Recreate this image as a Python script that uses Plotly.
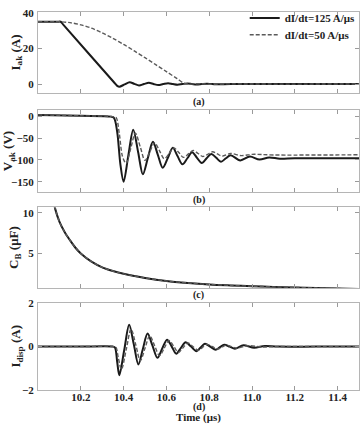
import plotly.graph_objects as go

# ---------------- data ----------------
# (a) anode current I_ak (A)
t_ia125 = [10.0, 10.09, 10.106, 10.12, 10.355, 10.37, 10.38, 10.405, 10.428, 10.45, 10.472, 10.495, 10.518,
           10.54, 10.562, 10.585, 10.608, 10.63, 10.652, 10.675, 10.698, 10.72, 10.742, 10.765, 10.79,
           10.81, 10.83, 10.9, 11.0, 11.5]
ia125 = [35, 35, 35, 33.1, 1.0, -1.0, -1.5, -0.2, 1.0, 0.1, -0.8, 0.0, 0.7,
         0.0, -0.6, 0.0, 0.5, 0.0, -0.4, 0.0, 0.3, 0.0, -0.25, 0.0, 0.2,
         0.0, -0.15, 0.0, 0.0, 0.0]
t_ia50 = [10.0, 10.1, 10.15, 10.2, 10.25, 10.3, 10.35, 10.4, 10.45, 10.5, 10.55, 10.6, 10.65, 10.68,
          10.7, 10.75, 10.8, 10.9, 11.0, 11.5]
ia50 = [35, 35, 34.5, 33.3, 31.4, 28.8, 25.7, 22.3, 18.6, 14.8, 10.9, 7.0, 3.0, 0.6,
        0.0, 0.2, -0.1, 0.1, 0.0, 0.0]

# (b) anode voltage V_ak (V)
t_v125 = [10.0, 10.2, 10.34, 10.355, 10.37, 10.385, 10.40, 10.422, 10.445, 10.468, 10.49, 10.513, 10.537,
          10.56, 10.583, 10.607, 10.63, 10.652, 10.675, 10.698, 10.72, 10.743, 10.765, 10.788, 10.81,
          10.833, 10.855, 10.878, 10.9, 10.945, 10.99, 11.035, 11.08, 11.13, 11.2, 11.5]
v125 = [4, 2, 0, -3, -35, -110, -150, -90, -30, -82, -133, -96, -58,
        -88, -118, -95, -72, -91, -110, -96, -82, -95, -107, -96, -86,
        -95, -104, -96, -89, -101, -92, -99, -94, -97, -96, -96]
t_v50 = [10.0, 10.2, 10.35, 10.365, 10.38, 10.395, 10.412, 10.433, 10.455, 10.478, 10.50, 10.523, 10.545,
         10.568, 10.59, 10.613, 10.635, 10.658, 10.68, 10.703, 10.725, 10.748, 10.77, 10.793, 10.815,
         10.838, 10.86, 10.9, 10.95, 11.0, 11.1, 11.5]
v50 = [4, 2, 0, -2, -40, -92, -108, -74, -38, -70, -101, -81, -60,
       -79, -97, -85, -72, -83, -94, -86, -78, -85, -92, -87, -81,
       -86, -91, -85, -90, -87, -88.5, -88]

# (c) capacitance C_B (uF)
t_cb = [10.06, 10.07, 10.08, 10.1, 10.125, 10.15, 10.175, 10.2, 10.25, 10.3, 10.35, 10.4, 10.5, 10.6,
        10.7, 10.8, 10.9, 11.0, 11.1, 11.2, 11.3, 11.4, 11.5]
cb125 = [13.0, 11.7, 10.5, 8.9, 7.6, 6.6, 5.7, 5.0, 4.0, 3.3, 2.85, 2.5, 2.0, 1.62,
         1.38, 1.2, 1.08, 0.98, 0.9, 0.83, 0.76, 0.7, 0.65]
cb50 = [13.0, 11.7, 10.5, 8.9, 7.6, 6.6, 5.7, 5.0, 4.0, 3.3, 2.85, 2.5, 2.0, 1.62,
        1.38, 1.2, 1.08, 0.98, 0.9, 0.83, 0.76, 0.7, 0.65]

# (d) displacement current I_disp (A)
t_id125 = [10.0, 10.2, 10.35, 10.36, 10.37, 10.38, 10.403, 10.426, 10.448, 10.469, 10.49, 10.512, 10.535,
           10.558, 10.58, 10.603, 10.625, 10.646, 10.668, 10.69, 10.715, 10.74, 10.76, 10.78, 10.805,
           10.83, 10.85, 10.87, 10.895, 10.92, 10.96, 11.01, 11.06, 11.12, 11.3, 11.5]
id125 = [0, 0, 0, -0.05, -0.7, -1.32, -0.16, 1.0, 0.09, -0.82, -0.11, 0.6, 0.04,
         -0.52, -0.1, 0.32, 0.0, -0.33, -0.06, 0.2, 0.0, -0.21, -0.04, 0.13, 0.0,
         -0.15, -0.03, 0.08, 0.0, -0.1, 0.06, -0.05, 0.03, 0.0, 0.0, 0.0]
t_id50 = [10.0, 10.2, 10.355, 10.365, 10.375, 10.39, 10.412, 10.435, 10.457, 10.478, 10.5, 10.522, 10.545,
          10.568, 10.59, 10.612, 10.635, 10.656, 10.678, 10.7, 10.724, 10.75, 10.77, 10.79, 10.815,
          10.84, 10.88, 10.93, 10.98, 11.05, 11.12, 11.3, 11.5]
id50 = [0, 0, 0, -0.05, -0.5, -1.05, -0.15, 0.8, 0.08, -0.65, -0.08, 0.5, 0.04,
        -0.42, -0.07, 0.28, 0.0, -0.27, -0.05, 0.17, 0.0, -0.17, -0.03, 0.1, 0.0,
        -0.11, 0.06, -0.07, 0.04, -0.02, 0.0, 0.0, 0.0]

x_ticks = [10.2, 10.4, 10.6, 10.8, 11.0, 11.2, 11.4]
label_125 = "dI/dt=125 A/μs"
label_50 = "dI/dt=50 A/μs"

# ---------------- figure ----------------
SOLID = dict(color="#1a1a1a", width=2)
DASH = dict(color="#5a5a5a", width=1.4, dash="4px,2px")
FONT = "Liberation Serif"

fig = go.Figure()
panels = [
    ("x", "y", t_ia125, ia125, t_ia50, ia50),
    ("x2", "y2", t_v125, v125, t_v50, v50),
    ("x3", "y3", t_cb, cb125, t_cb, cb50),
    ("x4", "y4", t_id125, id125, t_id50, id50),
]
for i, (xa, ya, t1, y1, t2, y2) in enumerate(panels):
    fig.add_trace(go.Scatter(x=t1, y=y1, xaxis=xa, yaxis=ya, mode="lines",
                             line=dict(SOLID, shape="spline", smoothing=0.9), name=label_125,
                             showlegend=(i == 0), legend="legend"))
    fig.add_trace(go.Scatter(x=t2, y=y2, xaxis=xa, yaxis=ya, mode="lines",
                             line=dict(DASH, shape="spline", smoothing=0.9),
                             name=label_50, showlegend=(i == 0), legend="legend2"))

tickfont = dict(family=FONT, size=11, weight="bold", color="#222")
common_x = dict(range=[10.0, 11.5], tickvals=x_ticks, tickformat=".1f", ticks="inside",
                ticklen=4, tickcolor="#9a9a9a", showline=True, linecolor="#b5b5b5", linewidth=1,
                mirror="ticks", showgrid=False, zeroline=False, tickfont=tickfont)
common_y = dict(ticks="inside", ticklen=4, tickcolor="#9a9a9a", showline=True,
                linecolor="#b5b5b5", linewidth=1, mirror="ticks", showgrid=False,
                zeroline=False, tickfont=tickfont, ticklabelstandoff=1)

H = 383.0
def dom(top_px, bot_px):
    return [(390 - bot_px) / H, (390 - top_px) / H]

legfont = dict(family=FONT, size=11, weight="bold", color="#222")
LEG_X = (246 - 38) / 323.0
fig.update_layout(
    width=364, height=424,
    margin=dict(l=38, r=3, t=7, b=34),
    paper_bgcolor="white", plot_bgcolor="white",
    xaxis=dict(common_x, anchor="y", domain=[0, 1], showticklabels=False),
    xaxis2=dict(common_x, anchor="y2", domain=[0, 1], showticklabels=False),
    xaxis3=dict(common_x, anchor="y3", domain=[0, 1], showticklabels=False),
    xaxis4=dict(common_x, anchor="y4", domain=[0, 1], showticklabels=True, ticklabelstandoff=-3),
    yaxis=dict(common_y, anchor="x", domain=dom(7, 89), range=[-5, 40.5], tickvals=[0, 20, 40]),
    yaxis2=dict(common_y, anchor="x2", domain=dom(106, 189), range=[-173, 16],
                tickvals=[-150, -100, -50, 0]),
    yaxis3=dict(common_y, anchor="x3", domain=dom(205, 287), range=[0.72, 10.65], tickvals=[5, 10]),
    yaxis4=dict(common_y, anchor="x4", domain=dom(302, 390), range=[-2, 2], tickvals=[-2, 0, 2]),
    legend=dict(x=LEG_X, xanchor="left", y=(390 - 13) / H, yanchor="middle",
                bgcolor="rgba(0,0,0,0)", font=legfont, itemwidth=30, borderwidth=0),
    legend2=dict(x=LEG_X, xanchor="left", y=(390 - 30) / H, yanchor="middle",
                 bgcolor="rgba(0,0,0,0)", font=legfont, itemwidth=30, borderwidth=0),
    showlegend=True,
)

ann = []
titles = [("I<sub>ak</sub> (A)", 48, -22), ("V<sub>ak</sub> (V)", 148, -30),
          ("C<sub>B</sub> (μF)", 246, -23), ("I<sub>disp</sub> (A)", 346, -21)]
for txt, ypx, xs in titles:
    ann.append(dict(text=txt, x=0, y=(390 - ypx) / H, xref="paper", yref="paper",
                    xanchor="center", yanchor="middle", xshift=xs, textangle=-90, showarrow=False,
                    font=dict(family=FONT, size=13, weight="bold", color="#222")))
for txt, ypx in [("(a)", 98), ("(b)", 197), ("(c)", 294), ("(d)", 407)]:
    ann.append(dict(text=txt, x=0.5, y=(390 - ypx) / H, xref="paper", yref="paper",
                    xanchor="center", yanchor="middle", showarrow=False,
                    font=dict(family=FONT, size=10, weight="bold", color="#222")))
ann.append(dict(text="Time (μs)", x=0.5, y=(390 - 418) / H, xref="paper", yref="paper",
                xanchor="center", yanchor="middle", showarrow=False,
                font=dict(family=FONT, size=11, weight="bold", color="#222")))
fig.update_layout(annotations=ann)

fig.write_html("out.html")
